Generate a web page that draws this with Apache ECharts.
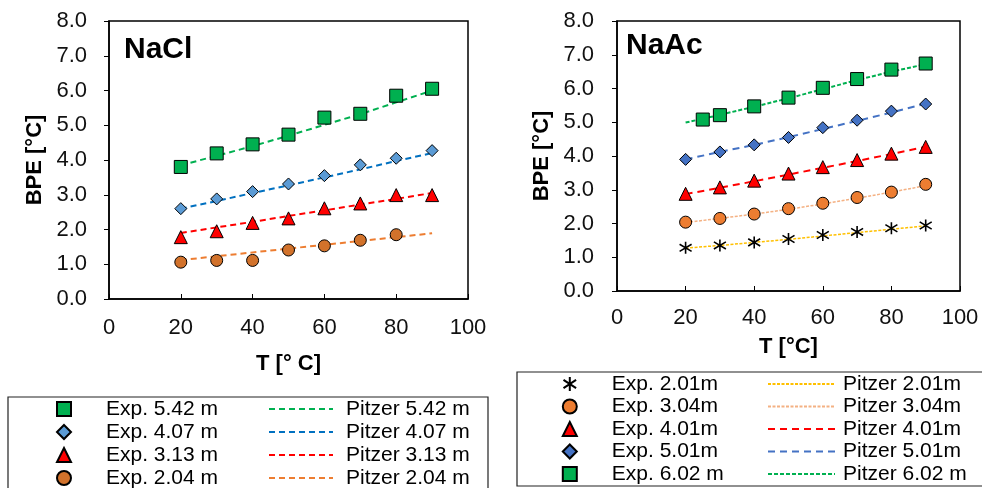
<!DOCTYPE html>
<html>
<head>
<meta charset="utf-8">
<script src="https://cdn.jsdelivr.net/npm/echarts@6/dist/echarts.min.js"></script>
<style>
  html, body { margin: 0; padding: 0; background: #fff; }
  #main { width: 982px; height: 488px; }
</style>
</head>
<body>
<div id="main"></div>
<script>
// temperatures [°C]
const temps = [20, 30, 40, 50, 60, 70, 80, 90];
const tempsNaAc602 = [25, 30, 40, 50, 60, 70, 80, 90];
const tempsNaCl204 = [20, 30, 40, 50, 60, 70, 80];

// NaCl, experimental
const naclExp542 = [3.80, 4.19, 4.45, 4.73, 5.22, 5.33, 5.85, 6.05];
const naclExp407 = [2.60, 2.88, 3.09, 3.31, 3.55, 3.86, 4.05, 4.27];
const naclExp313 = [1.78, 1.95, 2.19, 2.32, 2.61, 2.75, 2.99, 2.99];
const naclExp204 = [1.06, 1.11, 1.11, 1.41, 1.53, 1.69, 1.85];
// NaCl, Pitzer
const naclPit542 = [3.85, 4.12, 4.40, 4.70, 5.01, 5.32, 5.66, 6.00];
const naclPit407 = [2.60, 2.82, 3.05, 3.27, 3.50, 3.73, 3.97, 4.20];
const naclPit313 = [1.90, 2.06, 2.22, 2.39, 2.55, 2.72, 2.88, 3.05];
const naclPit204 = [1.12, 1.23, 1.34, 1.45, 1.56, 1.67, 1.78, 1.89];

// NaAc, experimental
const naacExp201 = [1.28, 1.35, 1.44, 1.54, 1.66, 1.75, 1.86, 1.94];
const naacExp304 = [2.04, 2.15, 2.28, 2.44, 2.60, 2.77, 2.93, 3.16];
const naacExp401 = [2.88, 3.07, 3.27, 3.48, 3.67, 3.88, 4.07, 4.27];
const naacExp501 = [3.90, 4.12, 4.33, 4.55, 4.84, 5.06, 5.33, 5.54];
const naacExp602 = [5.08, 5.21, 5.47, 5.73, 6.02, 6.28, 6.56, 6.74];
// NaAc, Pitzer
const naacPit201 = [1.27, 1.35, 1.44, 1.53, 1.63, 1.73, 1.83, 1.93];
const naacPit304 = [2.03, 2.15, 2.28, 2.42, 2.58, 2.75, 2.93, 3.12];
const naacPit401 = [2.87, 3.06, 3.25, 3.45, 3.65, 3.85, 4.06, 4.27];
const naacPit501 = [3.90, 4.12, 4.33, 4.56, 4.80, 5.04, 5.29, 5.55];
const naacPit602 = [4.99, 5.22, 5.46, 5.71, 5.98, 6.25, 6.50, 6.72];

const naclExpNames = ['Exp. 5.42 m', 'Exp. 4.07 m', 'Exp. 3.13 m', 'Exp. 2.04 m'];
const naclPitNames = ['Pitzer 5.42 m', 'Pitzer 4.07 m', 'Pitzer 3.13 m', 'Pitzer 2.04 m'];
const naacExpNames = ['Exp. 2.01m', 'Exp. 3.04m', 'Exp. 4.01m', 'Exp. 5.01m', 'Exp. 6.02 m'];
const naacPitNames = ['Pitzer 2.01m', 'Pitzer 3.04m', 'Pitzer 4.01m', 'Pitzer 5.01m', 'Pitzer 6.02 m'];

const FONT = 'Liberation Sans, Arial, sans-serif';
const ASTERISK = 'path://M5,0 L5,10 M0.5,2 L9.5,8 M0.5,8 L9.5,2';

function zip(xs, ys) {
    return ys.map((y, i) => [xs[i], y]);
}

function exp(name, idx, xs, ys, symbol, color, size) {
    return {
        name: name, type: 'scatter', xAxisIndex: idx, yAxisIndex: idx,
        data: zip(xs, ys), symbol: symbol, symbolSize: size, z: 5,
        itemStyle: { color: color, opacity: 1, borderColor: '#000',
            borderWidth: symbol === ASTERISK ? 1.6 : 1 }
    };
}

function pit(name, idx, ys, color, dash, width) {
    return {
        name: name, type: 'line', xAxisIndex: idx, yAxisIndex: idx,
        data: zip(temps, ys), symbol: 'none', z: 2,
        lineStyle: { color: color, type: dash, width: width },
        itemStyle: { color: color }
    };
}

function xAxis(idx, name, gap, margin) {
    return {
        type: 'value', gridIndex: idx, min: 0, max: 100, interval: 20,
        name: name, nameLocation: 'middle', nameGap: gap,
        nameTextStyle: { fontFamily: FONT, fontSize: 22, fontWeight: 'bold', color: '#000' },
        axisLine: { lineStyle: { color: '#000', width: 1.5 } },
        axisTick: { inside: true, length: 5, lineStyle: { color: '#000' } },
        axisLabel: { fontFamily: FONT, fontSize: 22, color: '#111', margin: margin },
        splitLine: { show: false }
    };
}

function yAxis(idx, gap, margin) {
    return {
        type: 'value', gridIndex: idx, min: 0, max: 8, interval: 1,
        name: 'BPE [°C]', nameLocation: 'middle', nameGap: gap,
        nameTextStyle: { fontFamily: FONT, fontSize: 22, fontWeight: 'bold', color: '#000' },
        axisLine: { lineStyle: { color: '#000', width: 1.5 } },
        axisTick: { length: 5, lineStyle: { color: '#000' } },
        axisLabel: { fontFamily: FONT, fontSize: 22, color: '#111', margin: margin,
            formatter: v => v.toFixed(1) },
        splitLine: { show: false }
    };
}

function legend(names, left, top, iconW, rowH, pad, hideSymbol) {
    return {
        data: names, orient: 'vertical', left: left, top: top, height: 200, padding: 0,
        itemWidth: iconW, itemHeight: 14, itemGap: 0, selectedMode: false,
        itemStyle: hideSymbol ? { opacity: 0 } : {},
        textStyle: { fontFamily: FONT, fontSize: 21, color: '#000', lineHeight: rowH,
            padding: [0, 0, 0, pad] }
    };
}

const chart = echarts.init(document.getElementById('main'));
chart.setOption({
    animation: false,
    title: [
        { text: 'NaCl', left: 124, top: 35, padding: 0,
          textStyle: { fontFamily: FONT, fontSize: 30, fontWeight: 'bold', color: '#000' } },
        { text: 'NaAc', left: 626, top: 31, padding: 0,
          textStyle: { fontFamily: FONT, fontSize: 30, fontWeight: 'bold', color: '#000' } }
    ],
    grid: [
        { left: 109, right: 514, top: 21, bottom: 189, show: true, borderColor: '#000', borderWidth: 1.5 },
        { left: 617, right: 22, top: 21, bottom: 197, show: true, borderColor: '#000', borderWidth: 1.5 }
    ],
    xAxis: [xAxis(0, 'T [° C]', 54, 18), xAxis(1, 'T [°C]', 45, 16)],
    yAxis: [yAxis(0, 63, 22), yAxis(1, 64, 23)],
    legend: [
        legend(naclExpNames, 56, 397.5, 14, 23, 30, false),
        legend(naclPitNames, 268, 397.5, 64, 23, 8, true),
        legend(naacExpNames, 561, 372.75, 14, 22.5, 30, false),
        legend(naacPitNames, 767, 372.75, 67, 22.5, 3, true)
    ],
    graphic: [
        { type: 'rect', shape: { x: 8, y: 397, width: 480, height: 100 },
          style: { fill: 'none', stroke: '#222', lineWidth: 1.2 } },
        { type: 'rect', shape: { x: 517, y: 372, width: 480, height: 114 },
          style: { fill: 'none', stroke: '#222', lineWidth: 1.2 } }
    ],
    series: [
        exp(naclExpNames[0], 0, temps, naclExp542, 'rect', '#00B050', 13),
        exp(naclExpNames[1], 0, temps, naclExp407, 'diamond', '#5B9BD5', 12),
        exp(naclExpNames[2], 0, temps, naclExp313, 'triangle', '#FF0000', 13),
        exp(naclExpNames[3], 0, tempsNaCl204, naclExp204, 'circle', '#D2722B', 12),
        pit(naclPitNames[0], 0, naclPit542, '#00B050', [6, 4], 2),
        pit(naclPitNames[1], 0, naclPit407, '#0070C0', [6, 4], 2),
        pit(naclPitNames[2], 0, naclPit313, '#FF0000', [6, 4], 2),
        pit(naclPitNames[3], 0, naclPit204, '#ED7D31', [6, 4], 2),

        exp(naacExpNames[0], 1, temps, naacExp201, ASTERISK, 'none', 12),
        exp(naacExpNames[1], 1, temps, naacExp304, 'circle', '#ED7D31', 12),
        exp(naacExpNames[2], 1, temps, naacExp401, 'triangle', '#FF0000', 13),
        exp(naacExpNames[3], 1, temps, naacExp501, 'diamond', '#4472C4', 12),
        exp(naacExpNames[4], 1, tempsNaAc602, naacExp602, 'rect', '#00B050', 13),
        pit(naacPitNames[0], 1, naacPit201, '#FFC000', [3, 1.5], 1.5),
        pit(naacPitNames[1], 1, naacPit304, '#F4B183', [3, 1.5], 1.5),
        pit(naacPitNames[2], 1, naacPit401, '#FF0000', [7, 5], 2),
        pit(naacPitNames[3], 1, naacPit501, '#4472C4', [7, 5], 2),
        pit(naacPitNames[4], 1, naacPit602, '#00B050', [4, 2], 2)
    ]
});
</script>
</body>
</html>
